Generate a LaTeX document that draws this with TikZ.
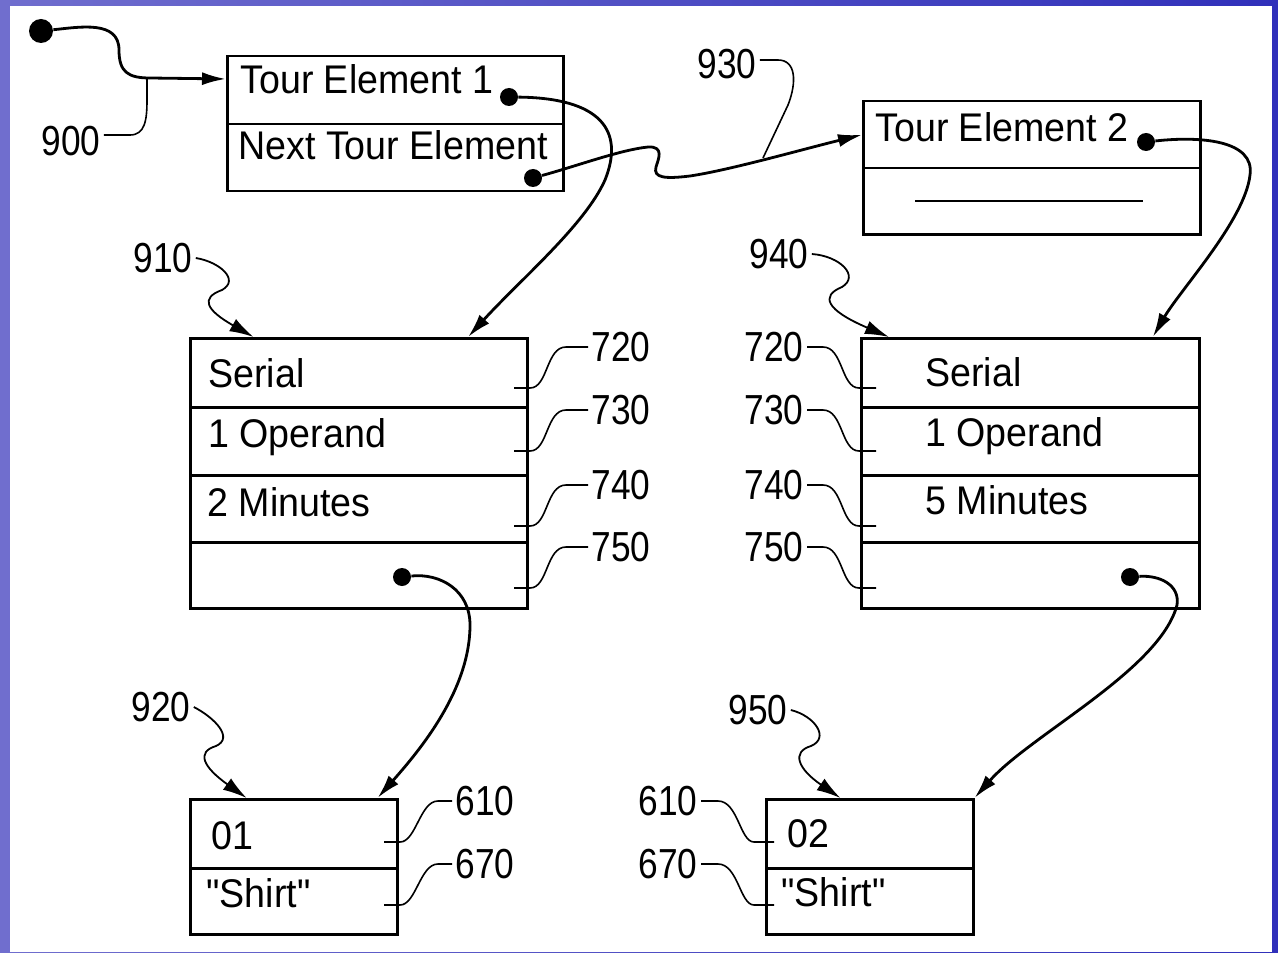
\documentclass[tikz,border=0pt]{standalone}
\usepackage{fontspec}
\setmainfont{Liberation Sans}
\newfontfamily\boxfont[FakeStretch=0.94]{Liberation Sans}
\newfontfamily\labfont[FakeStretch=0.84]{Liberation Sans}
\usetikzlibrary{arrows.meta,calc}
\definecolor{bgL}{RGB}{112,110,206}
\definecolor{bgR}{RGB}{48,48,186}
\begin{document}
\begin{tikzpicture}[x=0.5pt,y=-0.5pt,
  cell/.style={draw, line width=1.25pt, rectangle, inner sep=0pt, anchor=north west},
  txt/.style={anchor=base west, inner sep=0pt, font=\boxfont\fontsize{20}{22}\selectfont},
  lab/.style={inner sep=1.5pt, font=\labfont\fontsize{21}{23}\selectfont},
  dot/.style={circle, fill=black, inner sep=0pt, minimum size=9pt},
  conn/.style={line width=1.4pt, -{Latex[length=12pt,width=6.5pt]}},
  leader/.style={line width=0.8pt},
  squig/.style={line width=0.9pt, -{Latex[length=12pt,width=7pt]}},
]
\useasboundingbox (0,0) rectangle (1278,952);
\shade[left color=bgL, right color=bgR] (0,0) rectangle (1278,952);
\fill[white] (10,6) rectangle (1272,952);

% Tour element boxes
\node[cell, minimum width=168pt, minimum height=34pt] (te1a) at (226,55) {};
\node[cell, minimum width=168pt, minimum height=33.5pt] (te1b) at (226,123) {};
\node[cell, minimum width=168.5pt, minimum height=33.5pt] (te2a) at (862,100) {};
\node[cell, minimum width=168.5pt, minimum height=33pt] (te2b) at (862,167) {};
\draw[line width=1.2pt] ([xshift=26.5pt]te2b.west) -- ([xshift=-29.5pt]te2b.east);

% Left big box 910
\node[cell, minimum width=168.5pt, minimum height=34.5pt] (b910a) at (189,337) {};
\node[cell, minimum width=168.5pt, minimum height=34pt] (b910b) at (189,406) {};
\node[cell, minimum width=168.5pt, minimum height=33.5pt] (b910c) at (189,474) {};
\node[cell, minimum width=168.5pt, minimum height=33pt] (b910d) at (189,541) {};
% Right big box 940
\node[cell, minimum width=169pt, minimum height=34.5pt] (b940a) at (860,337) {};
\node[cell, minimum width=169pt, minimum height=34pt] (b940b) at (860,406) {};
\node[cell, minimum width=169pt, minimum height=33.5pt] (b940c) at (860,474) {};
\node[cell, minimum width=169pt, minimum height=33pt] (b940d) at (860,541) {};
% Small boxes
\node[cell, minimum width=103.5pt, minimum height=34.5pt] (b920a) at (189,798) {};
\node[cell, minimum width=103.5pt, minimum height=33pt] (b920b) at (189,867) {};
\node[cell, minimum width=103.5pt, minimum height=34.5pt] (b950a) at (765,798) {};
\node[cell, minimum width=103.5pt, minimum height=33pt] (b950b) at (765,867) {};

% Texts
\node[txt] (tx1) at (240,94) {Tour Element 1};
\node[txt] (tx2) at (238,160) {Next Tour Element};
\node[txt] (tx3) at (875,142) {Tour Element 2};
\node[txt] (tx4) at (208,387) {Serial};
\node[txt] (tx5) at (208,447) {1 Operand};
\node[txt] (tx6) at (207,516) {2 Minutes};
\node[txt] (tx7) at (925,386) {Serial};
\node[txt] (tx8) at (925,446) {1 Operand};
\node[txt] (tx9) at (925,514) {5 Minutes};
\node[txt] (tx10) at (211,849) {01};
\node[txt] (tx11) at (206,907) {"Shirt"};
\node[txt] (tx12) at (787,847) {02};
\node[txt] (tx13) at (781,906) {"Shirt"};

% Dots
\node[dot, minimum size=12pt] (d0) at (41,31) {};
\node[dot] (d1) at (509,97) {};
\node[dot] (d2) at (533,178) {};
\node[dot] (d3) at (1146,142) {};
\node[dot] (d4) at (402,577) {};
\node[dot] (d5) at (1130,577) {};

% Arrow targets
\coordinate (e1) at ($(te1a.north west)!0.34!(te1a.south west)$);
\coordinate (e2) at ($(b910a.north west)!0.822!(b910a.north east)$);
\coordinate (e3) at ($(b940a.north west)!0.86!(b940a.north east)$);
\coordinate (e4) at ($(b920a.north west)!0.90!(b920a.north east)$);

% Main connectors
\draw[conn] (d0) .. controls (80,27) and (119,20) .. (119,50) .. controls (119,72) and (128,78) .. (150,78) -- (e1);
\draw[conn] (d1) .. controls (600,98) and (625,130) .. (605,180) .. controls (585,225) and (520,280) .. (e2);
\draw[conn] (d2) .. controls (580,165) and (620,150) .. (648,147) .. controls (665,146) and (658,160) .. (656,167) .. controls (653,178) and (665,179) .. (690,176) .. controls (730,170) and (800,150) .. (te2a.west);
\draw[conn] (d4) .. controls (440,573) and (470,590) .. (470,625) .. controls (470,690) and (420,750) .. (e4);
\draw[conn] (d3) .. controls (1200,136) and (1255,140) .. (1250,175) .. controls (1245,220) and (1180,290) .. (e3);
\draw[conn] (d5) .. controls (1160,575) and (1180,585) .. (1177,605) .. controls (1160,670) and (1030,735) .. (b950a.north east);

% Reference labels with leaders
\node[lab] (l900) at (71,141) {900};
\coordinate (j900) at (147,78);
\draw[leader] ([yshift=3pt]l900.east) -- (130,135) .. controls (145,135) and (147,120) .. (147,100) -- (j900);
\node[lab] (l930) at (727,64) {930};
\coordinate (j930) at (763,158);
\draw[leader] ([yshift=2pt]l930.east) -- (778,60) .. controls (796,60) and (797,82) .. (788,105) -- (j930);

\foreach \n/\y in {720/347,730/410,740/485,750/547}{
  \node[lab, anchor=west] (la\n) at (588,\y) {\n};
  \draw[leader] (la\n.west) -- ++(-22,0) .. controls +(-20,0) and +(18,0) .. ++(-36,41) -- ++(-16,0);
  \node[lab, anchor=east] (lb\n) at (807,\y) {\n};
  \draw[leader] (lb\n.east) -- ++(16,0) .. controls +(20,0) and +(-18,0) .. ++(36,41) -- ++(17,0);
}
\foreach \n/\y in {610/801,670/864}{
  \node[lab, anchor=west] (lc\n) at (452,\y) {\n};
  \draw[leader] (lc\n.west) -- ++(-14,0) .. controls +(-18,0) and +(16,0) .. ++(-38,41) -- ++(-16,0);
  \node[lab, anchor=east] (ld\n) at (701,\y) {\n};
  \draw[leader] (ld\n.east) -- ++(17,0) .. controls +(20,0) and +(-14,0) .. ++(36,41) -- ++(20,0);
}

% Squiggly reference arrows
\node[lab] (l910) at (163,258) {910};
\coordinate (t910) at ($(b910a.north west)!0.19!(b910a.north east)$);
\draw[squig] (l910.east) .. controls (220,262) and (240,280) .. (222,290) .. controls (200,298) and (206,310) .. (t910);
\node[lab] (l940) at (779,254) {940};
\coordinate (t940) at ($(b940a.north west)!0.085!(b940a.north east)$);
\draw[squig] (l940.east) .. controls (840,256) and (860,276) .. (842,287) .. controls (820,296) and (826,310) .. (t940);
\node[lab] (l920) at (161,707) {920};
\coordinate (t920) at ($(b920a.north west)!0.275!(b920a.north east)$);
\draw[squig] (l920.east) .. controls (215,718) and (234,738) .. (216,746) .. controls (196,752) and (203,767) .. (t920);
\node[lab] (l950) at (758,710) {950};
\coordinate (t950) at ($(b950a.north west)!0.36!(b950a.north east)$);
\draw[squig] (l950.east) .. controls (815,716) and (830,738) .. (811,746) .. controls (791,752) and (798,769) .. (t950);
\end{tikzpicture}
\end{document}
